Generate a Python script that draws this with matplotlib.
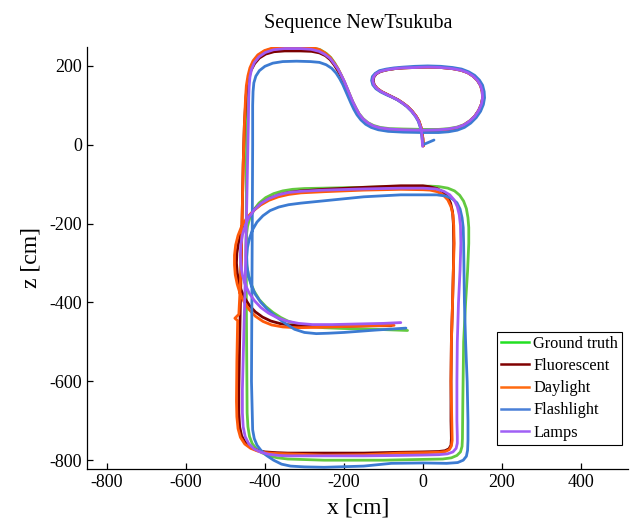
import matplotlib
matplotlib.use("Agg")
import matplotlib.pyplot as plt
from matplotlib.lines import Line2D

plt.rcParams['font.family'] = ['Liberation Serif', 'DejaVu Serif']
plt.rcParams['axes.unicode_minus'] = False

series_names = ["Ground truth", "Fluorescent", "Daylight", "Flashlight", "Lamps"]

# ---- Ground truth ----
gt_pts = [(0,-2),(-1,15),(-3,30),(-6,45),(-11,60),(-18,72),(-28,85),(-40,97),(-52,106),(-64,114),(-78,121),(-92,128),(-106,135),(-117,143),(-124,152),(-127,162),(-125,172),(-119,180),(-108,186),(-92,190),(-73,193),(-50,195),(-20,197),(12,198),(45,197),(75,194),(96,190),(113,184),(127,175),(138,164),(146,151),(151,136),(152,120),(149,104),(142,88),(132,73),(119,61),(104,51),(87,45),(65,41),(40,39),(0,39),(-50,40),(-85,41),(-108,44),(-125,49),(-139,56),(-151,66),(-161,78),(-169,92),(-177,108),(-184,124),(-191,141),(-198,157),(-206,175),(-214,191),(-223,207),(-233,221),(-245,232),(-260,241),(-280,246),(-310,248),(-350,248),(-378,245),(-400,238),(-416,227),(-428,212),(-436,194),(-441,174),(-444,150),(-445,120),(-446,50),(-447,-50),(-447,-200),(-447,-400),(-446,-550),(-445,-680),(-443,-715),(-439,-740),(-432,-758),(-422,-771),(-408,-781),(-390,-789),(-368,-794),(-342,-797),(-250,-800),(-100,-800),(0,-798),(50,-797),(72,-794),(86,-788),(95,-779),(99,-765),(100,-745),(101,-650),(103,-500),(108,-400),(113,-320),(116,-250),(116,-210),(114,-185),(110,-162),(103,-143),(93,-128),(80,-117),(63,-110),(40,-106),(20,-105),(-56,-106),(-150,-108),(-250,-110),(-300,-111),(-330,-113),(-355,-117),(-378,-124),(-398,-134),(-415,-148),(-428,-165),(-438,-185),(-444,-207),(-447,-230),(-448,-255),(-448,-280),(-446,-305),(-442,-328),(-436,-350),(-427,-372),(-414,-393),(-398,-410),(-380,-425),(-360,-438),(-340,-448),(-315,-456),(-285,-461),(-250,-464),(-200,-466),(-120,-468),(-39,-471)]

# ---- Fluorescent ----
fl_pts = [(1,-3),(0,15),(-2,30),(-5,45),(-10,60),(-17,72),(-27,85),(-39,97),(-51,106),(-63,114),(-77,121),(-91,128),(-105,135),(-116,143),(-123,152),(-126,162),(-124,172),(-118,180),(-107,186),(-91,190),(-72,193),(-49,195),(-19,196),(12,197),(45,196),(75,193),(96,189),(113,183),(127,174),(138,163),(146,150),(150,135),(151,119),(148,103),(141,87),(131,72),(118,59),(103,49),(86,42),(64,38),(40,36),(0,35),(-50,36),(-85,38),(-109,41),(-127,46),(-141,54),(-153,64),(-163,77),(-171,92),(-179,108),(-186,124),(-193,141),(-200,157),(-208,174),(-216,189),(-225,203),(-235,216),(-247,226),(-262,233),(-282,237),(-310,238),(-350,238),(-377,236),(-398,230),(-414,220),(-426,206),(-435,189),(-441,170),(-445,148),(-448,120),(-452,50),(-455,-50),(-458,-200),(-461,-350),(-464,-500),(-466,-620),(-466,-680),(-464,-715),(-459,-738),(-450,-755),(-437,-767),(-420,-775),(-400,-779),(-370,-781),(-342,-782),(-250,-782),(-150,-782),(-60,-780),(0,-779),(40,-778),(56,-776),(66,-771),(71,-762),(72,-745),(71,-700),(71,-600),(72,-500),(75,-400),(77,-317),(78,-250),(77,-200),(75,-170),(70,-148),(62,-131),(50,-119),(35,-111),(15,-106),(0,-104),(-56,-104),(-150,-108),(-250,-113),(-309,-117),(-340,-121),(-365,-127),(-388,-136),(-408,-148),(-426,-164),(-440,-182),(-452,-203),(-461,-226),(-467,-250),(-471,-275),(-472,-300),(-470,-325),(-466,-348),(-460,-369),(-451,-389),(-439,-408),(-424,-424),(-406,-437),(-385,-447),(-360,-454),(-330,-458),(-290,-460),(-258,-460),(-200,-460),(-130,-459),(-80,-459)]

# ---- Daylight ----
dl_pts = [(1,-3),(0,15),(-2,30),(-5,45),(-10,60),(-17,72),(-27,85),(-39,97),(-51,106),(-63,114),(-77,121),(-91,128),(-105,135),(-116,143),(-124,152),(-128,162),(-126,172),(-120,180),(-109,186),(-93,190),(-73,193),(-50,195),(-20,196),(12,197),(45,196),(75,193),(96,189),(113,183),(127,174),(138,163),(146,150),(150,135),(151,119),(148,103),(141,87),(131,72),(118,60),(103,50),(86,43),(64,39),(40,37),(0,36),(-50,37),(-85,39),(-109,42),(-126,47),(-140,55),(-152,65),(-162,78),(-170,93),(-178,109),(-185,126),(-192,143),(-199,160),(-207,177),(-215,193),(-225,208),(-235,222),(-248,233),(-263,242),(-283,247),(-310,249),(-350,249),(-379,246),(-401,239),(-418,228),(-430,213),(-438,195),(-443,175),(-447,150),(-449,120),(-452,50),(-455,-50),(-458,-200),(-462,-350),(-466,-430),(-476,-440),(-469,-446),(-471,-550),(-472,-650),(-471,-690),(-468,-720),(-462,-742),(-451,-759),(-436,-770),(-418,-777),(-398,-781),(-370,-783),(-342,-784),(-250,-787),(-150,-786),(-100,-784),(-60,-782),(0,-781),(40,-780),(57,-778),(67,-773),(72,-764),(74,-750),(73,-700),(71,-600),(72,-500),(75,-400),(77,-317),(79,-250),(78,-205),(76,-178),(71,-157),(63,-140),(51,-127),(36,-119),(18,-115),(0,-114),(-56,-113),(-150,-115),(-250,-119),(-309,-122),(-340,-126),(-366,-132),(-390,-141),(-411,-153),(-430,-168),(-446,-186),(-459,-207),(-468,-230),(-474,-254),(-477,-280),(-477,-305),(-475,-330),(-470,-354),(-463,-377),(-453,-398),(-440,-418),(-424,-435),(-405,-448),(-383,-457),(-355,-462),(-320,-464),(-258,-463),(-200,-461),(-130,-459),(-73,-458)]

# ---- Flashlight ----
fs_pts = [(28,12),(0,0),(-2,15),(-4,30),(-7,45),(-12,60),(-19,72),(-29,85),(-41,97),(-53,106),(-65,114),(-79,121),(-93,127),(-107,134),(-119,142),(-127,152),(-130,163),(-128,173),(-121,181),(-110,188),(-93,192),(-73,195),(-50,197),(-20,199),(12,200),(45,199),(75,196),(98,192),(116,185),(131,176),(143,164),(151,151),(155,135),(156,119),(153,102),(146,85),(135,69),(121,55),(105,44),(87,37),(65,33),(40,31),(0,31),(-50,32),(-88,34),(-113,38),(-131,44),(-145,52),(-157,63),(-167,76),(-175,90),(-182,105),(-189,121),(-196,137),(-203,153),(-211,168),(-220,182),(-231,194),(-245,203),(-262,209),(-285,211),(-320,212),(-355,211),(-380,207),(-400,199),(-414,188),(-423,174),(-428,157),(-430,135),(-431,100),(-431,0),(-432,-200),(-433,-400),(-434,-600),(-432,-680),(-431,-723),(-427,-745),(-420,-762),(-410,-775),(-396,-788),(-378,-800),(-358,-810),(-335,-815),(-300,-817),(-250,-818),(-150,-815),(-80,-808),(0,-807),(60,-808),(88,-806),(102,-800),(110,-790),(113,-775),(114,-750),(114,-700),(112,-600),(108,-500),(105,-400),(104,-317),(103,-250),(102,-210),(99,-185),(94,-163),(86,-147),(74,-137),(58,-130),(35,-127),(0,-127),(-56,-127),(-150,-132),(-250,-142),(-309,-148),(-340,-152),(-365,-158),(-387,-167),(-405,-180),(-420,-196),(-431,-215),(-439,-237),(-444,-260),(-446,-285),(-445,-310),(-441,-335),(-434,-358),(-424,-380),(-410,-400),(-393,-418),(-372,-436),(-350,-452),(-325,-468),(-300,-476),(-270,-479),(-240,-478),(-200,-476),(-120,-470),(-43,-465)]

# ---- Lamps ----
lp_pts = [(-1,-4),(-2,15),(-3,30),(-6,45),(-11,60),(-18,72),(-28,85),(-40,97),(-52,106),(-64,114),(-78,121),(-92,128),(-106,135),(-117,143),(-124,152),(-127,162),(-125,172),(-119,180),(-108,186),(-92,190),(-73,193),(-50,195),(-20,196),(12,197),(45,196),(75,193),(96,189),(113,183),(127,174),(138,163),(146,150),(150,135),(151,119),(148,103),(141,87),(131,72),(118,60),(103,50),(86,44),(64,40),(40,38),(0,37),(-50,38),(-85,40),(-109,43),(-126,48),(-140,56),(-152,66),(-162,79),(-170,94),(-178,110),(-185,127),(-192,144),(-199,161),(-207,177),(-215,192),(-225,206),(-235,219),(-248,229),(-263,237),(-283,242),(-310,244),(-350,244),(-378,241),(-399,234),(-415,223),(-427,208),(-434,191),(-438,171),(-440,147),(-441,120),(-442,50),(-444,-50),(-447,-200),(-450,-350),(-454,-500),(-457,-620),(-457,-680),(-455,-715),(-450,-740),(-441,-758),(-428,-771),(-410,-780),(-390,-785),(-365,-788),(-342,-789),(-250,-789),(-150,-789),(-60,-788),(0,-787),(40,-786),(62,-784),(76,-779),(84,-770),(87,-757),(87,-740),(86,-700),(86,-600),(87,-500),(90,-400),(94,-317),(96,-250),(95,-205),(92,-178),(87,-157),(79,-140),(68,-127),(53,-118),(33,-112),(0,-110),(-56,-110),(-150,-112),(-250,-115),(-309,-118),(-340,-121),(-366,-127),(-389,-136),(-409,-148),(-426,-164),(-440,-183),(-450,-205),(-457,-229),(-461,-254),(-462,-280),(-461,-305),(-457,-330),(-450,-354),(-440,-376),(-426,-396),(-410,-413),(-391,-427),(-370,-438),(-345,-447),(-315,-453),(-280,-456),(-230,-456),(-150,-454),(-100,-453),(-56,-451)]

x_ticks = [-800, -600, -400, -200, 0, 200, 400]
z_ticks = [-800, -600, -400, -200, 0, 200]

colors = ["#62c93f", "#7a0000", "#ff5a0a", "#3c7bd2", "#a05af2"]
legend_colors = ["#22e022", "#800000", "#ff6a10", "#4a80d8", "#a060f5"]

all_pts = [gt_pts, fl_pts, dl_pts, fs_pts, lp_pts]

fig = plt.figure(figsize=(6.36, 5.28), dpi=100)
ax = fig.add_axes([0.137, 0.112, 0.851, 0.799])

for pts, c in zip(all_pts, colors):
    xs = [p[0] for p in pts]
    zs = [p[1] for p in pts]
    ax.plot(xs, zs, color=c, lw=2.0, solid_joinstyle='round', solid_capstyle='round')

ax.set_xlim(-850, 520)
ax.set_ylim(-822, 248)
ax.set_xticks(x_ticks)
ax.set_yticks(z_ticks)
ax.tick_params(direction='in', length=4, labelsize=13, width=0.9, pad=3.5)
for s in ['top', 'right']:
    ax.spines[s].set_visible(False)
for s in ['left', 'bottom']:
    ax.spines[s].set_linewidth(0.9)

ax.set_xlabel("x [cm]", fontsize=17, labelpad=5)
ax.set_ylabel("z [cm]", fontsize=17, labelpad=6)
ax.set_title("Sequence NewTsukuba", fontsize=14.5, pad=14)

handles = [Line2D([0], [0], color=c, lw=1.8) for c in legend_colors]
leg = ax.legend(handles, series_names, loc='lower right', bbox_to_anchor=(0.989, 0.057),
                fontsize=11.8, frameon=True, fancybox=False, edgecolor='black',
                framealpha=1, handlelength=1.7, handletextpad=0.3, borderpad=0.25,
                labelspacing=0.38, borderaxespad=0.0)
leg.get_frame().set_linewidth(0.8)

fig.savefig("out.png", dpi=100)
